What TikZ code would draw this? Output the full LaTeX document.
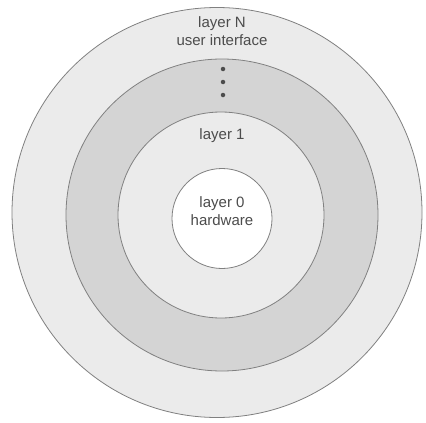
\documentclass[tikz,border=0pt]{standalone}
\usepackage{fontspec}
\setmainfont{Liberation Sans}
\begin{document}
\begin{tikzpicture}[x=1pt,y=-1pt,
  ring/.style={draw=black!50, line width=0.8pt},
  lbl/.style={text=black!70, font=\fontsize{15}{18}\selectfont, align=center, inner sep=0pt},
  dot/.style={circle, fill=black!70, inner sep=0pt, minimum size=4.5pt}]
  \useasboundingbox (0,0) rectangle (426,423);
  \fill[white] (0,0) rectangle (426,423);
  % concentric layers, outermost first
  \draw[ring, fill=black!8] (217,212.5) circle[radius=205];
  \draw[ring, fill=black!17] (222,215) circle[radius=156];
  \draw[ring, fill=black!8] (221,215) circle[radius=103];
  \draw[ring, fill=white] (222,218.5) circle[radius=50];
  % labels
  \node[lbl] (layerN) at (222,31) {layer N\\user interface};
  \node[dot] (d1) at (223,69) {};
  \node[dot] (d2) at (223,82) {};
  \node[dot] (d3) at (223,95) {};
  \node[lbl] (layer1) at (222,136) {layer 1};
  \node[lbl] (layer0) at (222,211) {layer 0\\hardware};
\end{tikzpicture}
\end{document}
